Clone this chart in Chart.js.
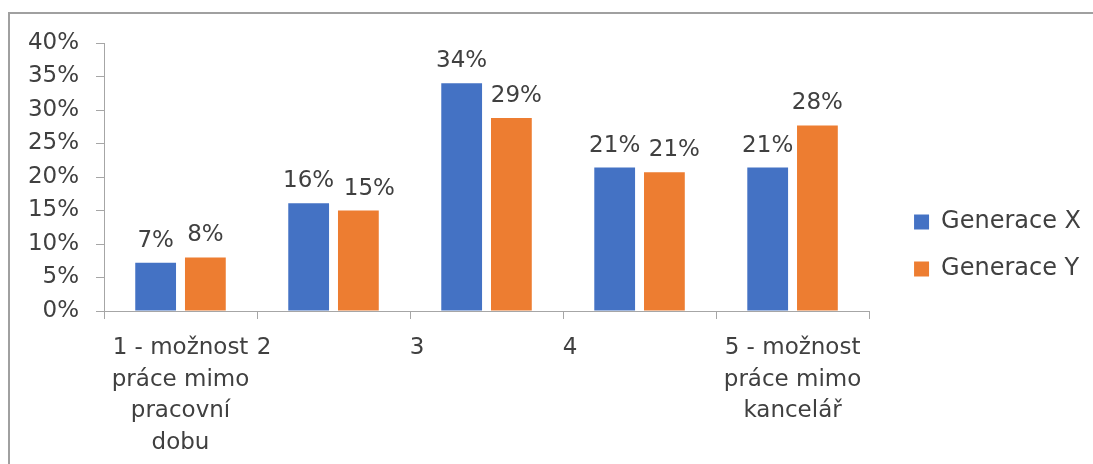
<!DOCTYPE html>
<html lang="cs">
<head>
<meta charset="utf-8">
<title>Generace X a Generace Y</title>
<script src="https://cdn.jsdelivr.net/npm/chart.js@4/dist/chart.umd.min.js"></script>
<style>
  html, body { margin: 0; padding: 0; background: #ffffff; }
  #wrap { position: relative; width: 1093px; height: 464px; overflow: hidden; }
  #frame {
    position: absolute; left: 8px; top: 12px; width: 1200px; height: 600px;
    border-top: 2px solid #a0a0a0; border-left: 2px solid #a0a0a0;
    pointer-events: none;
  }
  canvas { position: absolute; left: 0; top: 0; }
</style>
</head>
<body>
<div id="wrap">
  <canvas id="chart" width="1093" height="464"></canvas>
  <div id="frame"></div>
</div>
<script>
// Categories (scale 1–5) and the share of answers per generation, in percent
const categories = [
  ['1 - možnost', 'práce mimo', 'pracovní', 'dobu'],
  '2',
  '3',
  '4',
  ['5 - možnost', 'práce mimo', 'kancelář']
];
const seriesNames = ['Generace X', 'Generace Y'];
const generaceX = [7.2, 16.1, 34.0, 21.4, 21.4];
const generaceY = [8.0, 15.0, 28.8, 20.7, 27.7];
const yTicks = [0, 5, 10, 15, 20, 25, 30, 35, 40];

const FONT = '"DejaVu Sans", "Noto Sans", sans-serif';
const TEXT = '#404040';
const AXIS = '#a6a6a6';

// Percentage labels above every bar; some labels are nudged sideways
// so that neighbouring labels do not touch
const valueLabels = {
  id: 'valueLabels',
  afterDatasetsDraw(chart, args, opts) {
    const ctx = chart.ctx;
    const shifts = opts.shiftX || [];
    ctx.save();
    ctx.font = '23px ' + FONT;
    ctx.fillStyle = TEXT;
    ctx.textAlign = 'center';
    ctx.textBaseline = 'alphabetic';
    chart.data.datasets.forEach((ds, i) => {
      const dx = shifts[i] || [];
      chart.getDatasetMeta(i).data.forEach((bar, j) => {
        ctx.fillText(Math.round(ds.data[j]) + '%', bar.x + (dx[j] || 0), bar.y - opts.gap);
      });
    });
    ctx.restore();
  }
};

// Centre the legend on the plot area rather than on the full canvas height
const legendCentre = {
  id: 'legendCentre',
  afterLayout(chart) {
    if (chart.legend) chart.legend.bottom -= 16;
  }
};

// Single-character categories sit at the left of their slot
function padLabel(label) {
  if (Array.isArray(label)) return label;
  return label + '\u00a0'.repeat(19);
}

new Chart(document.getElementById('chart'), {
  type: 'bar',
  data: {
    labels: categories,
    datasets: [
      { label: seriesNames[0], data: generaceX, backgroundColor: '#4472C4' },
      { label: seriesNames[1], data: generaceY, backgroundColor: '#ED7D31' }
    ]
  },
  plugins: [valueLabels, legendCentre],
  options: {
    responsive: false,
    animation: false,
    events: [],
    categoryPercentage: 0.65,
    barPercentage: 0.82,
    layout: { padding: { top: 43, left: 0, right: 2, bottom: 0 } },
    plugins: {
      tooltip: { enabled: false },
      valueLabels: {
        gap: 16,
        shiftX: [[0, 0, 0, 0, 0], [0, 11, 5, 10, 0]]
      },
      legend: {
        position: 'right',
        align: 'center',
        maxWidth: 320,
        labels: {
          boxWidth: 15,
          boxHeight: 15,
          padding: 23,
          color: TEXT,
          font: { family: FONT, size: 24 }
        }
      }
    },
    scales: {
      x: {
        grid: { display: true, drawOnChartArea: false, drawTicks: true, tickLength: 8, color: AXIS, offset: true },
        border: { display: true, color: AXIS, width: 1 },
        ticks: {
          color: TEXT,
          font: { family: FONT, size: 23, lineHeight: 1.38 },
          padding: 13,
          maxRotation: 0,
          minRotation: 0,
          autoSkip: false,
          callback(value, index) { return padLabel(categories[index]); }
        },
        afterFit(scale) { scale.height = 153; }
      },
      y: {
        min: 0,
        max: 40,
        grid: { display: true, drawOnChartArea: false, drawTicks: true, tickLength: 8, color: AXIS },
        border: { display: true, color: AXIS, width: 1 },
        afterBuildTicks(scale) { scale.ticks = yTicks.map(v => ({ value: v })); },
        ticks: {
          color: TEXT,
          font: { family: FONT, size: 23 },
          padding: 17,
          callback(v) { return v + '%'; }
        },
        afterFit(scale) { scale.width = 104; }
      },
      gap: {
        position: 'right',
        display: true,
        grid: { display: false },
        border: { display: false },
        ticks: { display: false },
        afterFit(scale) { scale.width = 22; }
      }
    }
  }
});
</script>
</body>
</html>
